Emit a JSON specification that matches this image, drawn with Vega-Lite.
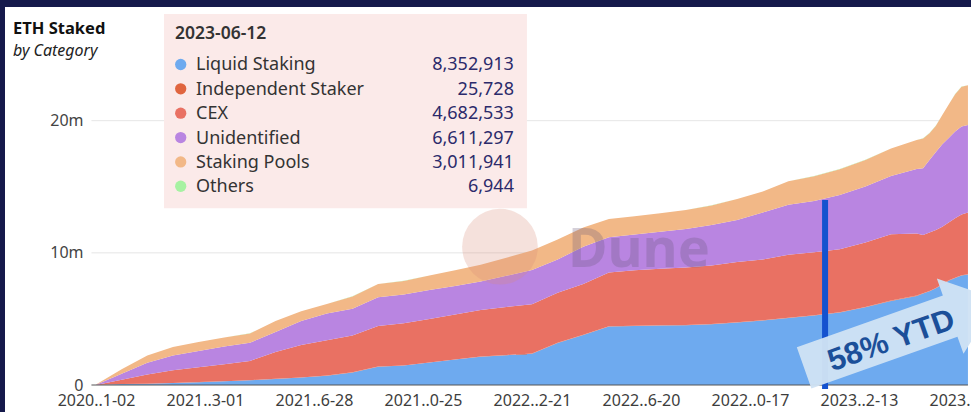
{
  "$schema": "https://vega.github.io/schema/vega-lite/v6.json",
  "width": 966,
  "height": 405,
  "autosize": {"type": "none"},
  "padding": {"left": 5, "top": 7, "right": 0, "bottom": 0},
  "background": "#15194b",
  "config": {"view": {"fill": "white", "stroke": null}, "font": "Noto Sans"},
  "resolve": {"axis": {"x": "independent", "y": "independent"}},
  "title": {
    "text": "ETH Staked", "subtitle": "by Category", "anchor": "start", "frame": "group", "orient": "top",
    "offset": -52, "dx": 8, "font": "Noto Sans", "fontSize": 16.5, "fontWeight": "bold", "color": "#111111",
    "subtitleFont": "Noto Sans", "subtitleFontSize": 16, "subtitleFontStyle": "italic", "subtitleColor": "#222222", "subtitlePadding": 6
  },
  "datasets": {
    "grid": [{"g": 10000000}, {"g": 20000000}],
    "cats": [
      {"c": "Liquid Staking", "k": 1},
      {"c": "Independent Staker", "k": 2},
      {"c": "CEX", "k": 3},
      {"c": "Unidentified", "k": 4},
      {"c": "Staking Pools", "k": 5},
      {"c": "Others", "k": 6}
    ],
    "tip": [
      {"c": "Liquid Staking", "v": 8352913},
      {"c": "Independent Staker", "v": 25728},
      {"c": "CEX", "v": 4682533},
      {"c": "Unidentified", "v": 6611297},
      {"c": "Staking Pools", "v": 3011941},
      {"c": "Others", "v": 6944}
    ],
    "staked": [
      {"d":"2020-11-02","c":"Liquid Staking","v":0},{"d":"2020-11-02","c":"Independent Staker","v":1000},{"d":"2020-11-02","c":"CEX","v":5000},{"d":"2020-11-02","c":"Unidentified","v":20000},{"d":"2020-11-02","c":"Staking Pools","v":10000},{"d":"2020-11-02","c":"Others","v":200},
      {"d":"2020-11-30","c":"Liquid Staking","v":68000},{"d":"2020-11-30","c":"Independent Staker","v":3000},{"d":"2020-11-30","c":"CEX","v":330000},{"d":"2020-11-30","c":"Unidentified","v":454000},{"d":"2020-11-30","c":"Staking Pools","v":333000},{"d":"2020-11-30","c":"Others","v":500},
      {"d":"2020-12-28","c":"Liquid Staking","v":98000},{"d":"2020-12-28","c":"Independent Staker","v":5000},{"d":"2020-12-28","c":"CEX","v":684000},{"d":"2020-12-28","c":"Unidentified","v":900000},{"d":"2020-12-28","c":"Staking Pools","v":538000},{"d":"2020-12-28","c":"Others","v":800},
      {"d":"2021-01-25","c":"Liquid Staking","v":144000},{"d":"2021-01-25","c":"Independent Staker","v":6500},{"d":"2021-01-25","c":"CEX","v":961000},{"d":"2021-01-25","c":"Unidentified","v":1113000},{"d":"2021-01-25","c":"Staking Pools","v":643000},{"d":"2021-01-25","c":"Others","v":1000},
      {"d":"2021-02-22","c":"Liquid Staking","v":212000},{"d":"2021-02-22","c":"Independent Staker","v":7500},{"d":"2021-02-22","c":"CEX","v":1120000},{"d":"2021-02-22","c":"Unidentified","v":1241000},{"d":"2021-02-22","c":"Staking Pools","v":666000},{"d":"2021-02-22","c":"Others","v":1200},
      {"d":"2021-03-22","c":"Liquid Staking","v":280000},{"d":"2021-03-22","c":"Independent Staker","v":8500},{"d":"2021-03-22","c":"CEX","v":1285000},{"d":"2021-03-22","c":"Unidentified","v":1332000},{"d":"2021-03-22","c":"Staking Pools","v":688000},{"d":"2021-03-22","c":"Others","v":1400},
      {"d":"2021-04-19","c":"Liquid Staking","v":356000},{"d":"2021-04-19","c":"Independent Staker","v":9500},{"d":"2021-04-19","c":"CEX","v":1459000},{"d":"2021-04-19","c":"Unidentified","v":1377000},{"d":"2021-04-19","c":"Staking Pools","v":704000},{"d":"2021-04-19","c":"Others","v":1600},
      {"d":"2021-05-17","c":"Liquid Staking","v":454000},{"d":"2021-05-17","c":"Independent Staker","v":10500},{"d":"2021-05-17","c":"CEX","v":2025000},{"d":"2021-05-17","c":"Unidentified","v":1513000},{"d":"2021-05-17","c":"Staking Pools","v":832000},{"d":"2021-05-17","c":"Others","v":1800},
      {"d":"2021-06-14","c":"Liquid Staking","v":560000},{"d":"2021-06-14","c":"Independent Staker","v":11500},{"d":"2021-06-14","c":"CEX","v":2447000},{"d":"2021-06-14","c":"Unidentified","v":1816000},{"d":"2021-06-14","c":"Staking Pools","v":742000},{"d":"2021-06-14","c":"Others","v":2000},
      {"d":"2021-07-12","c":"Liquid Staking","v":704000},{"d":"2021-07-12","c":"Independent Staker","v":12300},{"d":"2021-07-12","c":"CEX","v":2674000},{"d":"2021-07-12","c":"Unidentified","v":2021000},{"d":"2021-07-12","c":"Staking Pools","v":718000},{"d":"2021-07-12","c":"Others","v":2200},
      {"d":"2021-08-09","c":"Liquid Staking","v":946000},{"d":"2021-08-09","c":"Independent Staker","v":13000},{"d":"2021-08-09","c":"CEX","v":2791000},{"d":"2021-08-09","c":"Unidentified","v":2020000},{"d":"2021-08-09","c":"Staking Pools","v":935000},{"d":"2021-08-09","c":"Others","v":2400},
      {"d":"2021-09-06","c":"Liquid Staking","v":1385000},{"d":"2021-09-06","c":"Independent Staker","v":13800},{"d":"2021-09-06","c":"CEX","v":3073000},{"d":"2021-09-06","c":"Unidentified","v":2172000},{"d":"2021-09-06","c":"Staking Pools","v":991000},{"d":"2021-09-06","c":"Others","v":2600},
      {"d":"2021-10-04","c":"Liquid Staking","v":1468000},{"d":"2021-10-04","c":"Independent Staker","v":14500},{"d":"2021-10-04","c":"CEX","v":3187000},{"d":"2021-10-04","c":"Unidentified","v":2187000},{"d":"2021-10-04","c":"Staking Pools","v":1021000},{"d":"2021-10-04","c":"Others","v":2800},
      {"d":"2021-11-01","c":"Liquid Staking","v":1695000},{"d":"2021-11-01","c":"Independent Staker","v":15200},{"d":"2021-11-01","c":"CEX","v":3292000},{"d":"2021-11-01","c":"Unidentified","v":2179000},{"d":"2021-11-01","c":"Staking Pools","v":1098000},{"d":"2021-11-01","c":"Others","v":3000},
      {"d":"2021-11-29","c":"Liquid Staking","v":1922000},{"d":"2021-11-29","c":"Independent Staker","v":15800},{"d":"2021-11-29","c":"CEX","v":3404000},{"d":"2021-11-29","c":"Unidentified","v":2157000},{"d":"2021-11-29","c":"Staking Pools","v":1188000},{"d":"2021-11-29","c":"Others","v":3200},
      {"d":"2021-12-27","c":"Liquid Staking","v":2142000},{"d":"2021-12-27","c":"Independent Staker","v":16400},{"d":"2021-12-27","c":"CEX","v":3525000},{"d":"2021-12-27","c":"Unidentified","v":2141000},{"d":"2021-12-27","c":"Staking Pools","v":1272000},{"d":"2021-12-27","c":"Others","v":3400},
      {"d":"2022-01-24","c":"Liquid Staking","v":2255000},{"d":"2022-01-24","c":"Independent Staker","v":17000},{"d":"2022-01-24","c":"CEX","v":3630000},{"d":"2022-01-24","c":"Unidentified","v":2361000},{"d":"2022-01-24","c":"Staking Pools","v":1370000},{"d":"2022-01-24","c":"Others","v":3600},
      {"d":"2022-02-21","c":"Liquid Staking","v":2361000},{"d":"2022-02-21","c":"Independent Staker","v":17500},{"d":"2022-02-21","c":"CEX","v":3735000},{"d":"2022-02-21","c":"Unidentified","v":2581000},{"d":"2022-02-21","c":"Staking Pools","v":1483000},{"d":"2022-02-21","c":"Others","v":3800},
      {"d":"2022-03-21","c":"Liquid Staking","v":3186000},{"d":"2022-03-21","c":"Independent Staker","v":18000},{"d":"2022-03-21","c":"CEX","v":3781000},{"d":"2022-03-21","c":"Unidentified","v":2512000},{"d":"2022-03-21","c":"Staking Pools","v":1513000},{"d":"2022-03-21","c":"Others","v":4000},
      {"d":"2022-04-18","c":"Liquid Staking","v":3784000},{"d":"2022-04-18","c":"Independent Staker","v":18600},{"d":"2022-04-18","c":"CEX","v":3847000},{"d":"2022-04-18","c":"Unidentified","v":2815000},{"d":"2022-04-18","c":"Staking Pools","v":1453000},{"d":"2022-04-18","c":"Others","v":4200},
      {"d":"2022-05-16","c":"Liquid Staking","v":4427000},{"d":"2022-05-16","c":"Independent Staker","v":19100},{"d":"2022-05-16","c":"CEX","v":4067000},{"d":"2022-05-16","c":"Unidentified","v":2664000},{"d":"2022-05-16","c":"Staking Pools","v":1385000},{"d":"2022-05-16","c":"Others","v":4400},
      {"d":"2022-06-13","c":"Liquid Staking","v":4465000},{"d":"2022-06-13","c":"Independent Staker","v":19500},{"d":"2022-06-13","c":"CEX","v":4196000},{"d":"2022-06-13","c":"Unidentified","v":2701000},{"d":"2022-06-13","c":"Staking Pools","v":1385000},{"d":"2022-06-13","c":"Others","v":4600},
      {"d":"2022-07-11","c":"Liquid Staking","v":4495000},{"d":"2022-07-11","c":"Independent Staker","v":19900},{"d":"2022-07-11","c":"CEX","v":4286000},{"d":"2022-07-11","c":"Unidentified","v":2792000},{"d":"2022-07-11","c":"Staking Pools","v":1400000},{"d":"2022-07-11","c":"Others","v":4800},
      {"d":"2022-08-08","c":"Liquid Staking","v":4525000},{"d":"2022-08-08","c":"Independent Staker","v":20300},{"d":"2022-08-08","c":"CEX","v":4339000},{"d":"2022-08-08","c":"Unidentified","v":2921000},{"d":"2022-08-08","c":"Staking Pools","v":1430000},{"d":"2022-08-08","c":"Others","v":5000},
      {"d":"2022-09-05","c":"Liquid Staking","v":4601000},{"d":"2022-09-05","c":"Independent Staker","v":20700},{"d":"2022-09-05","c":"CEX","v":4421000},{"d":"2022-09-05","c":"Unidentified","v":3057000},{"d":"2022-09-05","c":"Staking Pools","v":1491000},{"d":"2022-09-05","c":"Others","v":5200},
      {"d":"2022-10-03","c":"Liquid Staking","v":4729000},{"d":"2022-10-03","c":"Independent Staker","v":21100},{"d":"2022-10-03","c":"CEX","v":4550000},{"d":"2022-10-03","c":"Unidentified","v":3194000},{"d":"2022-10-03","c":"Staking Pools","v":1581000},{"d":"2022-10-03","c":"Others","v":5400},
      {"d":"2022-10-31","c":"Liquid Staking","v":4881000},{"d":"2022-10-31","c":"Independent Staker","v":21500},{"d":"2022-10-31","c":"CEX","v":4602000},{"d":"2022-10-31","c":"Unidentified","v":3542000},{"d":"2022-10-31","c":"Staking Pools","v":1597000},{"d":"2022-10-31","c":"Others","v":5600},
      {"d":"2022-11-28","c":"Liquid Staking","v":5070000},{"d":"2022-11-28","c":"Independent Staker","v":21900},{"d":"2022-11-28","c":"CEX","v":4760000},{"d":"2022-11-28","c":"Unidentified","v":3792000},{"d":"2022-11-28","c":"Staking Pools","v":1770000},{"d":"2022-11-28","c":"Others","v":5800},
      {"d":"2022-12-26","c":"Liquid Staking","v":5252000},{"d":"2022-12-26","c":"Independent Staker","v":22300},{"d":"2022-12-26","c":"CEX","v":4768000},{"d":"2022-12-26","c":"Unidentified","v":3889000},{"d":"2022-12-26","c":"Staking Pools","v":1869000},{"d":"2022-12-26","c":"Others","v":6000},
      {"d":"2023-01-23","c":"Liquid Staking","v":5486000},{"d":"2023-01-23","c":"Independent Staker","v":22700},{"d":"2023-01-23","c":"CEX","v":4767000},{"d":"2023-01-23","c":"Unidentified","v":4102000},{"d":"2023-01-23","c":"Staking Pools","v":1952000},{"d":"2023-01-23","c":"Others","v":6200},
      {"d":"2023-02-20","c":"Liquid Staking","v":5887000},{"d":"2023-02-20","c":"Independent Staker","v":23100},{"d":"2023-02-20","c":"CEX","v":4873000},{"d":"2023-02-20","c":"Unidentified","v":4230000},{"d":"2023-02-20","c":"Staking Pools","v":2021000},{"d":"2023-02-20","c":"Others","v":6400},
      {"d":"2023-03-20","c":"Liquid Staking","v":6364000},{"d":"2023-03-20","c":"Independent Staker","v":23600},{"d":"2023-03-20","c":"CEX","v":5016000},{"d":"2023-03-20","c":"Unidentified","v":4411000},{"d":"2023-03-20","c":"Staking Pools","v":2074000},{"d":"2023-03-20","c":"Others","v":6600},
      {"d":"2023-04-17","c":"Liquid Staking","v":6742000},{"d":"2023-04-17","c":"Independent Staker","v":24100},{"d":"2023-04-17","c":"CEX","v":4706000},{"d":"2023-04-17","c":"Unidentified","v":4866000},{"d":"2023-04-17","c":"Staking Pools","v":2202000},{"d":"2023-04-17","c":"Others","v":6700},
      {"d":"2023-04-24","c":"Liquid Staking","v":6916000},{"d":"2023-04-24","c":"Independent Staker","v":24300},{"d":"2023-04-24","c":"CEX","v":4411000},{"d":"2023-04-24","c":"Unidentified","v":5047000},{"d":"2023-04-24","c":"Staking Pools","v":2263000},{"d":"2023-04-24","c":"Others","v":6720},
      {"d":"2023-05-01","c":"Liquid Staking","v":7090000},{"d":"2023-05-01","c":"Independent Staker","v":24500},{"d":"2023-05-01","c":"CEX","v":4434000},{"d":"2023-05-01","c":"Unidentified","v":5478000},{"d":"2023-05-01","c":"Staking Pools","v":2028000},{"d":"2023-05-01","c":"Others","v":6750},
      {"d":"2023-05-08","c":"Liquid Staking","v":7317000},{"d":"2023-05-08","c":"Independent Staker","v":24700},{"d":"2023-05-08","c":"CEX","v":4387000},{"d":"2023-05-08","c":"Unidentified","v":5910000},{"d":"2023-05-08","c":"Staking Pools","v":1983000},{"d":"2023-05-08","c":"Others","v":6780},
      {"d":"2023-05-15","c":"Liquid Staking","v":7605000},{"d":"2023-05-15","c":"Independent Staker","v":24900},{"d":"2023-05-15","c":"CEX","v":4349000},{"d":"2023-05-15","c":"Unidentified","v":6235000},{"d":"2023-05-15","c":"Staking Pools","v":2210000},{"d":"2023-05-15","c":"Others","v":6820},
      {"d":"2023-05-22","c":"Liquid Staking","v":7893000},{"d":"2023-05-22","c":"Independent Staker","v":25100},{"d":"2023-05-22","c":"CEX","v":4386000},{"d":"2023-05-22","c":"Unidentified","v":6395000},{"d":"2023-05-22","c":"Staking Pools","v":2519000},{"d":"2023-05-22","c":"Others","v":6850},
      {"d":"2023-05-29","c":"Liquid Staking","v":8097000},{"d":"2023-05-29","c":"Independent Staker","v":25300},{"d":"2023-05-29","c":"CEX","v":4500000},{"d":"2023-05-29","c":"Unidentified","v":6561000},{"d":"2023-05-29","c":"Staking Pools","v":2822000},{"d":"2023-05-29","c":"Others","v":6880},
      {"d":"2023-06-05","c":"Liquid Staking","v":8279000},{"d":"2023-06-05","c":"Independent Staker","v":25500},{"d":"2023-06-05","c":"CEX","v":4598000},{"d":"2023-06-05","c":"Unidentified","v":6667000},{"d":"2023-06-05","c":"Staking Pools","v":3004000},{"d":"2023-06-05","c":"Others","v":6910},
      {"d":"2023-06-12","c":"Liquid Staking","v":8352913},{"d":"2023-06-12","c":"Independent Staker","v":25728},{"d":"2023-06-12","c":"CEX","v":4682533},{"d":"2023-06-12","c":"Unidentified","v":6611297},{"d":"2023-06-12","c":"Staking Pools","v":3011941},{"d":"2023-06-12","c":"Others","v":6944}
    ]
  },
  "layer": [
    {
      "data": {"name": "grid"},
      "mark": {"type": "rule", "color": "#e6e6e6", "strokeWidth": 1},
      "encoding": {
        "y": {"field": "g", "type": "quantitative", "axis": null},
        "x": {"datum": {"year": 2020, "month": 10, "date": 28, "utc": true}, "type": "temporal", "axis": null},
        "x2": {"datum": {"year": 2023, "month": 6, "date": 12, "utc": true}}
      }
    },
    {
      "data": {"name": "staked"},
      "transform": [{"lookup": "c", "from": {"data": {"name": "cats"}, "key": "c", "fields": ["k"]}}],
      "mark": {"type": "area", "interpolate": "linear"},
      "encoding": {
        "x": {
          "field": "d", "type": "temporal",
          "scale": {"type": "utc", "nice": false, "domain": [{"year": 2020, "month": 7, "date": 25, "hours": 15, "utc": true}, {"year": 2023, "month": 6, "date": 15, "hours": 8, "utc": true}]},
          "axis": {
            "title": null, "domain": false, "ticks": false, "grid": false, "offset": -27, "labelPadding": 7,
            "labelFontSize": 16, "labelColor": "#3d3d3d", "labelFont": "Noto Sans", "labelOverlap": false, "labelFlush": false,
            "values": [
              {"year": 2020, "month": 11, "date": 2, "utc": true},
              {"year": 2021, "month": 3, "date": 1, "utc": true},
              {"year": 2021, "month": 6, "date": 28, "utc": true},
              {"year": 2021, "month": 10, "date": 25, "utc": true},
              {"year": 2022, "month": 2, "date": 21, "utc": true},
              {"year": 2022, "month": 6, "date": 20, "utc": true},
              {"year": 2022, "month": 10, "date": 17, "utc": true},
              {"year": 2023, "month": 2, "date": 13, "utc": true},
              {"year": 2023, "month": 6, "date": 12, "utc": true}
            ],
            "labelExpr": "utcFormat(datum.value, '%Y') + '..' + slice(utcFormat(datum.value, '%m-%d'), 1)"
          }
        },
        "y": {
          "field": "v", "type": "quantitative", "stack": "zero",
          "scale": {"domain": [-2043000, 28604000], "nice": false, "zero": false},
          "axis": {
            "title": null, "domain": false, "ticks": false, "grid": false, "offset": -87, "labelPadding": 9,
            "labelFontSize": 16, "labelColor": "#444444", "labelFont": "Noto Sans",
            "values": [0, 10000000, 20000000],
            "labelExpr": "datum.value == 0 ? '0' : format(datum.value / 1000000, 'd') + 'm'"
          }
        },
        "order": {"field": "k", "type": "quantitative", "sort": "ascending"},
        "color": {
          "field": "c", "type": "nominal", "legend": null,
          "scale": {
            "domain": ["Liquid Staking", "Independent Staker", "CEX", "Unidentified", "Staking Pools", "Others"],
            "range": ["#6eaaef", "#e0653f", "#e97163", "#b985e1", "#f2b887", "#a6f2a2"]
          }
        }
      }
    },
    {
      "data": {"values": [{}]},
      "mark": {"type": "rule", "color": "#555555", "strokeWidth": 1},
      "encoding": {
        "y": {"datum": 0, "type": "quantitative", "axis": null},
        "x": {"datum": {"year": 2020, "month": 10, "date": 28, "utc": true}, "type": "temporal", "axis": null},
        "x2": {"datum": {"year": 2023, "month": 6, "date": 12, "utc": true}}
      }
    },
    {
      "data": {"values": [{}]},
      "mark": {"type": "rect", "color": "#fbeae9"},
      "encoding": {
        "x": {"datum": {"year": 2021, "month": 1, "date": 15, "hours": 6, "utc": true}, "type": "temporal", "axis": null},
        "x2": {"datum": {"year": 2022, "month": 2, "date": 15, "hours": 12, "utc": true}},
        "y": {"datum": 28070000, "type": "quantitative", "axis": null},
        "y2": {"datum": 13370000}
      }
    },
    {
      "data": {"values": [{"t": "2023-06-12"}]},
      "mark": {"type": "text", "align": "left", "baseline": "alphabetic", "fontSize": 17.5, "fontWeight": 600, "color": "#333333", "font": "Noto Sans"},
      "encoding": {
        "x": {"datum": {"year": 2021, "month": 1, "date": 27, "hours": 6, "utc": true}, "type": "temporal", "axis": null},
        "y": {"datum": 26180000, "type": "quantitative", "axis": null},
        "text": {"field": "t"}
      }
    },
    {
      "data": {"name": "tip"},
      "transform": [{"filter": {"field": "c", "equal": "Liquid Staking"}}],
      "encoding": {"y": {"datum": 24253000, "type": "quantitative", "axis": null}},
      "layer": [
        {"mark": {"type": "point", "filled": true, "size": 127, "opacity": 1}, "encoding": {"x": {"datum": {"year": 2021, "month": 2, "date": 2, "hours": 11, "utc": true}, "type": "temporal", "axis": null}, "color": {"field": "c", "type": "nominal", "legend": null}}},
        {"mark": {"type": "text", "align": "left", "baseline": "middle", "dy": 1, "fontSize": 18, "color": "#333333", "font": "Noto Sans"}, "encoding": {"x": {"datum": {"year": 2021, "month": 2, "date": 19, "hours": 4, "utc": true}, "type": "temporal", "axis": null}, "text": {"field": "c"}}},
        {"mark": {"type": "text", "align": "right", "baseline": "middle", "dy": 1, "fontSize": 18, "color": "#2b2a6b", "font": "Noto Sans"}, "encoding": {"x": {"datum": {"year": 2022, "month": 2, "date": 1, "hours": 7, "utc": true}, "type": "temporal", "axis": null}, "text": {"field": "v", "format": ","}}}
      ]
    },
    {
      "data": {"name": "tip"},
      "transform": [{"filter": {"field": "c", "equal": "Independent Staker"}}],
      "encoding": {"y": {"datum": 22410000, "type": "quantitative", "axis": null}},
      "layer": [
        {"mark": {"type": "point", "filled": true, "size": 127, "opacity": 1}, "encoding": {"x": {"datum": {"year": 2021, "month": 2, "date": 2, "hours": 11, "utc": true}, "type": "temporal", "axis": null}, "color": {"field": "c", "type": "nominal", "legend": null}}},
        {"mark": {"type": "text", "align": "left", "baseline": "middle", "dy": 1, "fontSize": 18, "color": "#333333", "font": "Noto Sans"}, "encoding": {"x": {"datum": {"year": 2021, "month": 2, "date": 19, "hours": 4, "utc": true}, "type": "temporal", "axis": null}, "text": {"field": "c"}}},
        {"mark": {"type": "text", "align": "right", "baseline": "middle", "dy": 1, "fontSize": 18, "color": "#2b2a6b", "font": "Noto Sans"}, "encoding": {"x": {"datum": {"year": 2022, "month": 2, "date": 1, "hours": 7, "utc": true}, "type": "temporal", "axis": null}, "text": {"field": "v", "format": ","}}}
      ]
    },
    {
      "data": {"name": "tip"},
      "transform": [{"filter": {"field": "c", "equal": "CEX"}}],
      "encoding": {"y": {"datum": 20568000, "type": "quantitative", "axis": null}},
      "layer": [
        {"mark": {"type": "point", "filled": true, "size": 127, "opacity": 1}, "encoding": {"x": {"datum": {"year": 2021, "month": 2, "date": 2, "hours": 11, "utc": true}, "type": "temporal", "axis": null}, "color": {"field": "c", "type": "nominal", "legend": null}}},
        {"mark": {"type": "text", "align": "left", "baseline": "middle", "dy": 1, "fontSize": 18, "color": "#333333", "font": "Noto Sans"}, "encoding": {"x": {"datum": {"year": 2021, "month": 2, "date": 19, "hours": 4, "utc": true}, "type": "temporal", "axis": null}, "text": {"field": "c"}}},
        {"mark": {"type": "text", "align": "right", "baseline": "middle", "dy": 1, "fontSize": 18, "color": "#2b2a6b", "font": "Noto Sans"}, "encoding": {"x": {"datum": {"year": 2022, "month": 2, "date": 1, "hours": 7, "utc": true}, "type": "temporal", "axis": null}, "text": {"field": "v", "format": ","}}}
      ]
    },
    {
      "data": {"name": "tip"},
      "transform": [{"filter": {"field": "c", "equal": "Unidentified"}}],
      "encoding": {"y": {"datum": 18725000, "type": "quantitative", "axis": null}},
      "layer": [
        {"mark": {"type": "point", "filled": true, "size": 127, "opacity": 1}, "encoding": {"x": {"datum": {"year": 2021, "month": 2, "date": 2, "hours": 11, "utc": true}, "type": "temporal", "axis": null}, "color": {"field": "c", "type": "nominal", "legend": null}}},
        {"mark": {"type": "text", "align": "left", "baseline": "middle", "dy": 1, "fontSize": 18, "color": "#333333", "font": "Noto Sans"}, "encoding": {"x": {"datum": {"year": 2021, "month": 2, "date": 19, "hours": 4, "utc": true}, "type": "temporal", "axis": null}, "text": {"field": "c"}}},
        {"mark": {"type": "text", "align": "right", "baseline": "middle", "dy": 1, "fontSize": 18, "color": "#2b2a6b", "font": "Noto Sans"}, "encoding": {"x": {"datum": {"year": 2022, "month": 2, "date": 1, "hours": 7, "utc": true}, "type": "temporal", "axis": null}, "text": {"field": "v", "format": ","}}}
      ]
    },
    {
      "data": {"name": "tip"},
      "transform": [{"filter": {"field": "c", "equal": "Staking Pools"}}],
      "encoding": {"y": {"datum": 16882000, "type": "quantitative", "axis": null}},
      "layer": [
        {"mark": {"type": "point", "filled": true, "size": 127, "opacity": 1}, "encoding": {"x": {"datum": {"year": 2021, "month": 2, "date": 2, "hours": 11, "utc": true}, "type": "temporal", "axis": null}, "color": {"field": "c", "type": "nominal", "legend": null}}},
        {"mark": {"type": "text", "align": "left", "baseline": "middle", "dy": 1, "fontSize": 18, "color": "#333333", "font": "Noto Sans"}, "encoding": {"x": {"datum": {"year": 2021, "month": 2, "date": 19, "hours": 4, "utc": true}, "type": "temporal", "axis": null}, "text": {"field": "c"}}},
        {"mark": {"type": "text", "align": "right", "baseline": "middle", "dy": 1, "fontSize": 18, "color": "#2b2a6b", "font": "Noto Sans"}, "encoding": {"x": {"datum": {"year": 2022, "month": 2, "date": 1, "hours": 7, "utc": true}, "type": "temporal", "axis": null}, "text": {"field": "v", "format": ","}}}
      ]
    },
    {
      "data": {"name": "tip"},
      "transform": [{"filter": {"field": "c", "equal": "Others"}}],
      "encoding": {"y": {"datum": 15040000, "type": "quantitative", "axis": null}},
      "layer": [
        {"mark": {"type": "point", "filled": true, "size": 127, "opacity": 1}, "encoding": {"x": {"datum": {"year": 2021, "month": 2, "date": 2, "hours": 11, "utc": true}, "type": "temporal", "axis": null}, "color": {"field": "c", "type": "nominal", "legend": null}}},
        {"mark": {"type": "text", "align": "left", "baseline": "middle", "dy": 1, "fontSize": 18, "color": "#333333", "font": "Noto Sans"}, "encoding": {"x": {"datum": {"year": 2021, "month": 2, "date": 19, "hours": 4, "utc": true}, "type": "temporal", "axis": null}, "text": {"field": "c"}}},
        {"mark": {"type": "text", "align": "right", "baseline": "middle", "dy": 1, "fontSize": 18, "color": "#2b2a6b", "font": "Noto Sans"}, "encoding": {"x": {"datum": {"year": 2022, "month": 2, "date": 1, "hours": 7, "utc": true}, "type": "temporal", "axis": null}, "text": {"field": "v", "format": ","}}}
      ]
    },
    {
      "data": {"values": [{}]},
      "mark": {"type": "point", "filled": true, "size": 5728, "color": "#d98a78", "opacity": 0.26, "strokeWidth": 0},
      "encoding": {
        "x": {"datum": {"year": 2022, "month": 1, "date": 17, "hours": 1, "utc": true}, "type": "temporal", "axis": null},
        "y": {"datum": 10465000, "type": "quantitative", "axis": null}
      }
    },
    {
      "data": {"values": [{"t": "Dune"}]},
      "mark": {"type": "text", "align": "left", "baseline": "alphabetic", "fontSize": 54, "fontWeight": "bold", "font": "Noto Sans", "color": "#6a5a7a", "opacity": 0.28},
      "encoding": {
        "x": {"datum": {"year": 2022, "month": 4, "date": 1, "hours": 7, "utc": true}, "type": "temporal", "axis": null},
        "y": {"datum": 8950000, "type": "quantitative", "axis": null},
        "text": {"field": "t"}
      }
    },
    {
      "data": {"values": [{}]},
      "mark": {"type": "rule", "color": "#1452cf", "strokeWidth": 6},
      "encoding": {
        "x": {"datum": {"year": 2023, "month": 1, "date": 7, "utc": true}, "type": "temporal", "axis": null},
        "y": {"datum": 14000000, "type": "quantitative", "axis": null},
        "y2": {"datum": -303000}
      }
    },
    {
      "data": {"values": [{}]},
      "mark": {"type": "point", "filled": true, "size": 42025, "angle": 340.5, "color": "#cfe2f4", "opacity": 0.96, "strokeWidth": 0,
        "shape": "M-1,-0.213L0.512,-0.213L0.512,-0.39L1,0L0.512,0.39L0.512,0.213L-1,0.213Z"},
      "encoding": {
        "x": {"datum": {"year": 2023, "month": 3, "date": 30, "hours": 14, "utc": true}, "type": "temporal", "axis": null},
        "y": {"datum": 3890000, "type": "quantitative", "axis": null}
      }
    },
    {
      "data": {"values": [{"t": "58% YTD"}]},
      "mark": {"type": "text", "align": "center", "baseline": "middle", "angle": 340.5, "fontSize": 31, "fontWeight": "bold", "font": "Liberation Sans", "color": "#1b4f99"},
      "encoding": {
        "x": {"datum": {"year": 2023, "month": 3, "date": 20, "hours": 12, "utc": true}, "type": "temporal", "axis": null},
        "y": {"datum": 3330000, "type": "quantitative", "axis": null},
        "text": {"field": "t"}
      }
    }
  ]
}
